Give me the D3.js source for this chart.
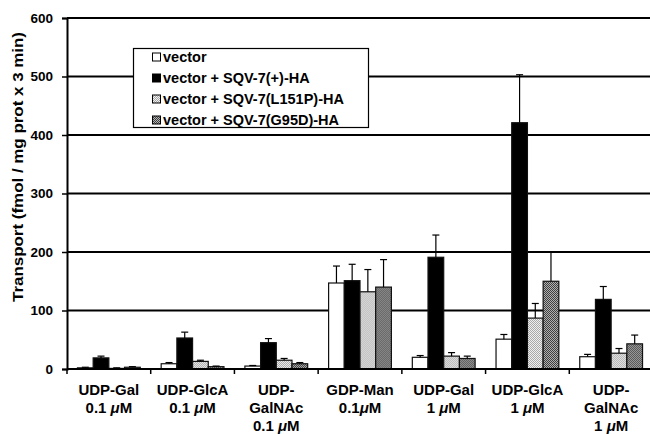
<!DOCTYPE html>
<html>
<head>
<meta charset="utf-8">
<script src="https://cdn.jsdelivr.net/npm/d3@7"></script>
<style>
  body { margin: 0; background: #fff; }
  text { font-family: "Liberation Sans", Arial, Helvetica, sans-serif; font-weight: bold; fill: #000; }
</style>
</head>
<body>
<div id="chart"></div>
<script>
// categories (each label is split into lines)
var categories = [
  ["UDP-Gal", "0.1 μM"],
  ["UDP-GlcA", "0.1 μM"],
  ["UDP-", "GalNAc", "0.1 μM"],
  ["GDP-Man", "0.1μM"],
  ["UDP-Gal", "1 μM"],
  ["UDP-GlcA", "1 μM"],
  ["UDP-", "GalNAc", "1 μM"]
];
var seriesNames = ["vector", "vector + SQV-7(+)-HA", "vector + SQV-7(L151P)-HA", "vector + SQV-7(G95D)-HA"];

// transport values, fmol / mg prot x 3 min
var vectorVals = [2, 9, 5, 147, 20, 51, 21];
var vectorErr  = [1, 2, 1, 29, 3, 8, 4];
var wtVals     = [19, 53, 45, 151, 191, 421, 119];
var wtErr      = [3, 10, 7, 28, 38, 82, 22];
var l151pVals  = [1, 13, 15, 132, 22, 87, 27];
var l151pErr   = [1, 2, 3, 38, 6, 25, 8];
var g95dVals   = [3, 4, 9, 140, 18, 150, 43];
var g95dErr    = [1, 1, 2, 47, 4, 50, 15];

var yTicks = [0, 100, 200, 300, 400, 500, 600];

var values = [vectorVals, wtVals, l151pVals, g95dVals];
var errors = [vectorErr, wtErr, l151pErr, g95dErr];

var width = 650, height = 434;
var plotLeft = 67, plotRight = 653, plotTop = 18, plotBottom = 369;

var svg = d3.select('#chart').append('svg')
            .attr('width', width)
            .attr('height', height);

// fill patterns for the mutant bars
var defs = svg.append('defs');
function checker(id, bg, fg){
  var p = defs.append('pattern')
              .attr('id', id)
              .attr('patternUnits', 'userSpaceOnUse')
              .attr('width', 2)
              .attr('height', 2);
  p.append('rect').attr('width', 2).attr('height', 2).attr('fill', bg);
  p.append('rect').attr('width', 1).attr('height', 1).attr('fill', fg);
  p.append('rect').attr('x', 1).attr('y', 1).attr('width', 1).attr('height', 1).attr('fill', fg);
}
checker('lightPat', '#f2f2f2', '#a6a6a6');
checker('darkPat', '#b4b4b4', '#3c3c3c');
var fills = ['#fff', '#000', 'url(#lightPat)', 'url(#darkPat)'];

var x0 = d3.scaleBand()
           .domain(d3.range(categories.length))
           .range([plotLeft, plotRight])
           .paddingInner(0.25)
           .paddingOuter(0.125);
var x1 = d3.scaleBand()
           .domain(d3.range(seriesNames.length))
           .range([0, x0.bandwidth()]);
var y = d3.scaleLinear()
          .domain([0, 600])
          .range([plotBottom, plotTop]);

// gridlines
svg.append('g')
   .selectAll('line')
   .data(yTicks.slice(1))
   .join('line')
   .attr('x1', plotLeft).attr('x2', width)
   .attr('y1', function(d){ return y(d); })
   .attr('y2', function(d){ return y(d); })
   .style('stroke', '#000')
   .style('stroke-width', 2);

// bars
var groups = svg.append('g')
                .selectAll('g')
                .data(categories)
                .join('g')
                .attr('transform', function(d, i){ return 'translate(' + x0(i) + ',0)'; });

function rows(d, i){
  return values.map(function(s, k){ return {k: k, v: s[i], e: errors[k][i]}; });
}

groups.selectAll('rect')
      .data(rows)
      .join('rect')
      .attr('x', function(d){ return x1(d.k); })
      .attr('y', function(d){ return y(d.v); })
      .attr('width', x1.bandwidth())
      .attr('height', function(d){ return y(0) - y(d.v); })
      .style('fill', function(d){ return fills[d.k]; })
      .style('stroke', '#111')
      .style('stroke-width', 1.2);

// error bars (upper only)
var err = groups.selectAll('g.err')
      .data(rows)
      .join('g')
      .attr('class', 'err');
err.append('line')
   .attr('x1', function(d){ return x1(d.k) + x1.bandwidth() / 2; })
   .attr('x2', function(d){ return x1(d.k) + x1.bandwidth() / 2; })
   .attr('y1', function(d){ return y(d.v); })
   .attr('y2', function(d){ return y(d.v + d.e); })
   .style('stroke', '#000')
   .style('stroke-width', 1.2);
err.append('line')
   .attr('x1', function(d){ return x1(d.k) + x1.bandwidth() / 2 - 3.5; })
   .attr('x2', function(d){ return x1(d.k) + x1.bandwidth() / 2 + 3.5; })
   .attr('y1', function(d){ return y(d.v + d.e); })
   .attr('y2', function(d){ return y(d.v + d.e); })
   .style('stroke', '#000')
   .style('stroke-width', 1.2);

// y axis
var yAxis = svg.append('g')
               .attr('transform', 'translate(' + plotLeft + ',0)')
               .call(d3.axisLeft(y).tickValues(yTicks).tickSize(5).tickPadding(9));
yAxis.select('.domain').style('stroke-width', 2);
yAxis.selectAll('.tick line').style('stroke-width', 1.5);
yAxis.selectAll('text').style('font-size', '13.5px').style('font-family', '"Liberation Sans", Arial, sans-serif').style('font-weight', 'bold');

// x axis line + ticks at group boundaries
svg.append('line')
   .attr('x1', plotLeft).attr('x2', width)
   .attr('y1', y(0)).attr('y2', y(0))
   .style('stroke', '#000')
   .style('stroke-width', 2);
svg.append('g')
   .selectAll('line')
   .data(d3.range(categories.length))
   .join('line')
   .attr('x1', function(i){ return x0(i) - x0.step() * x0.paddingOuter(); })
   .attr('x2', function(i){ return x0(i) - x0.step() * x0.paddingOuter(); })
   .attr('y1', y(0))
   .attr('y2', y(0) + 5)
   .style('stroke', '#000')
   .style('stroke-width', 1.5);

// category labels
var labels = svg.append('g')
                .selectAll('text')
                .data(categories)
                .join('text')
                .attr('text-anchor', 'middle')
                .style('font-size', '15px')
                .attr('x', function(d, i){ return x0(i) + x0.bandwidth() / 2; })
                .attr('y', 395);
labels.each(function(lines, i){
  var t = d3.select(this);
  lines.forEach(function(line, j){
    var ts = t.append('tspan')
              .attr('x', x0(i) + x0.bandwidth() / 2)
              .attr('dy', j === 0 ? 0 : 18);
    var parts = line.split('μ');
    ts.append('tspan').text(parts[0]);
    if (parts.length > 1) {
      ts.append('tspan').style('font-style', 'italic').text('μ');
      ts.append('tspan').text(parts[1]);
    }
  });
});

// y title
svg.append('text')
   .attr('transform', 'translate(22.5,167) rotate(-90)')
   .attr('text-anchor', 'middle')
   .attr('textLength', 270)
   .attr('lengthAdjust', 'spacingAndGlyphs')
   .style('font-size', '14px')
   .text('Transport (fmol / mg prot x 3 min)');

// legend
var legend = svg.append('g');
legend.append('rect')
      .attr('x', 133.5).attr('y', 48.5)
      .attr('width', 235).attr('height', 79)
      .style('fill', '#fff')
      .style('stroke', '#000')
      .style('stroke-width', 1.2);
var items = legend.selectAll('g.item')
                  .data(seriesNames)
                  .join('g')
                  .attr('class', 'item')
                  .attr('transform', function(d, i){ return 'translate(152,' + (57 + i * 21) + ')'; });
items.append('rect')
     .attr('x', 0.5).attr('y', -4)
     .attr('width', 8).attr('height', 8)
     .style('fill', function(d, i){ return fills[i]; })
     .style('stroke', '#000')
     .style('stroke-width', 1);
items.append('text')
     .attr('x', 11)
     .attr('y', 5)
     .style('font-size', '14.5px')
     .text(function(d){ return d; });
</script>
</body>
</html>
